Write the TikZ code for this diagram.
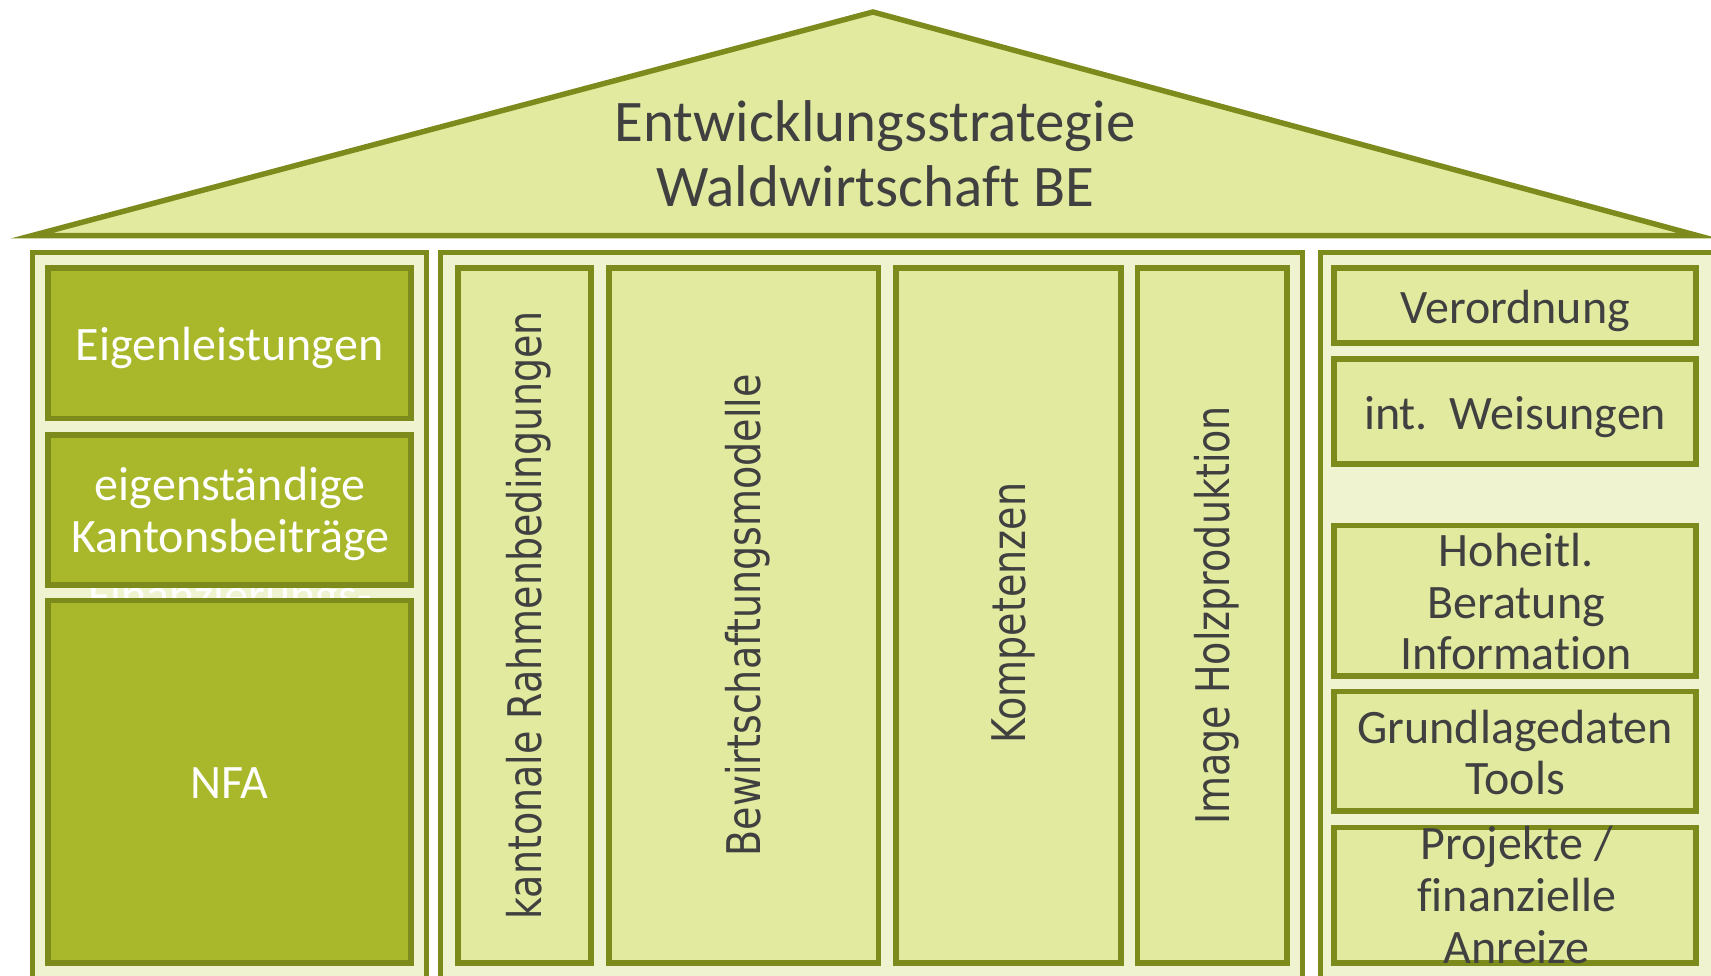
\documentclass[tikz,border=0pt]{standalone}
\usepackage{fontspec}
\usepackage{graphicx}
\setmainfont{Carlito}[Ligatures=NoCommon]
\newfontfamily\colfont{DejaVu Sans}
\usetikzlibrary{fit}
\definecolor{olv}{HTML}{7D8A1C}
\definecolor{dkf}{HTML}{A8B82A}
\definecolor{ltf}{HTML}{E2EA9F}
\definecolor{plf}{HTML}{EFF3D0}
\definecolor{txt}{HTML}{404040}
\tikzset{
  frame/.style={draw=olv, line width=4.5pt, fill=plf, rectangle, inner sep=0pt},
  darkbox/.style={draw=olv, line width=5.2pt, fill=dkf, rectangle, inner sep=0pt},
  lightbox/.style={draw=olv, line width=5.2pt, fill=ltf, rectangle, inner sep=0pt},
  wtxt/.style={text=white, font=\fontsize{44}{47.5}\selectfont, align=center, inner sep=0pt},
  gtxt/.style={text=txt, font=\fontsize{44}{47.5}\selectfont, align=center, inner sep=0pt},
  coltxt/.style={text=txt, font=\colfont\fontsize{42.5}{48}\selectfont, rotate=90, anchor=base, inner sep=0pt},
  roofstyle/.style={draw=olv, line width=5pt, fill=ltf, line join=miter, miter limit=20},
}
\begin{document}
\begin{tikzpicture}[x=1pt,y=-1pt]
\useasboundingbox (0,0) rectangle (1568,894);
\clip (0,0) rectangle (1568,894);
% roof
\coordinate (rl) at (29,216);
\coordinate (ra) at (800,11);
\coordinate (rr) at (1556,216);
\draw[roofstyle] (rl) -- (ra) -- (rr) -- cycle;
\node[text=txt, font=\fontsize{54}{60}\selectfont, align=center, inner sep=0pt] (title) at (802,141) {Entwicklungsstrategie\\Waldwirtschaft BE};
% frames
\node[frame, fit={(30,231.5) (390.5,915)}] (lframe) {};
\node[frame, fit={(404,231.5) (1194,915)}] (mframe) {};
\node[frame, fit={(1210,231.5) (1580,915)}] (rframe) {};
% hidden text behind the left boxes
\node[wtxt, anchor=base] (thid) at (211,560) {Finanzierungs-};
% left boxes
\node[darkbox, fit={(44,245.7) (376.6,383.6)}] (beig) {};
\node[darkbox, fit={(44,398.4) (376.6,536.4)}] (bkant) {};
\node[darkbox, fit={(44,550.2) (376.6,882.5)}] (bnfa) {};
\node[wtxt, anchor=base] (teig) at (210.3,330.6) {Eigenleistungen};
\node[wtxt] (tkant) at (211,471.1) {eigenständige\\Kantonsbeiträge};
\node[wtxt, anchor=base] (tnfa) at (210.3,732.2) {NFA};
% middle columns
\node[lightbox, fit={(420,245.7) (541.5,882.5)}] (c1) {};
\node[lightbox, fit={(557.8,245.7) (805.2,882.5)}] (c2) {};
\node[lightbox, fit={(821.2,245.7) (1027,882.5)}] (c3) {};
\node[lightbox, fit={(1042.3,245.7) (1179.7,882.5)}] (c4) {};
\node[coltxt] (tc1) at (496.3,564) {\scalebox{0.82}[1]{kantonale Rahmenbedingungen}};
\node[coltxt] (tc2) at (697,564) {\scalebox{0.82}[1]{Bewirtschaftungsmodelle}};
\node[coltxt] (tc3) at (939.6,562) {\scalebox{0.82}[1]{Kompetenzen}};
\node[coltxt] (tc4) at (1126.5,564) {\scalebox{0.82}[1]{Image Holzproduktion}};
% right boxes
\node[lightbox, fit={(1222.6,245.7) (1554.5,314.2)}] (bver) {};
\node[lightbox, fit={(1222.6,329) (1554.5,425.5)}] (bwei) {};
\node[lightbox, fit={(1222.6,481.5) (1554.5,619.5)}] (bhoh) {};
\node[lightbox, fit={(1222.6,633.6) (1554.5,743.5)}] (bgru) {};
\node[lightbox, fit={(1222.6,758.3) (1554.5,882.2)}] (bpro) {};
\node[gtxt, anchor=base] (tver) at (1388.5,296.3) {Verordnung};
\node[gtxt, anchor=base] (twei) at (1388.5,394) {int.\ \ Weisungen};
\node[gtxt] (thoh) at (1389.5,551.3) {Hoheitl.\\Beratung\\Information};
\node[gtxt] (tgru) at (1388.5,689.6) {Grundlagedaten\\Tools};
\node[gtxt] (tpro) at (1390,820.3) {Projekte /\\finanzielle\\Anreize};
\end{tikzpicture}
\end{document}
